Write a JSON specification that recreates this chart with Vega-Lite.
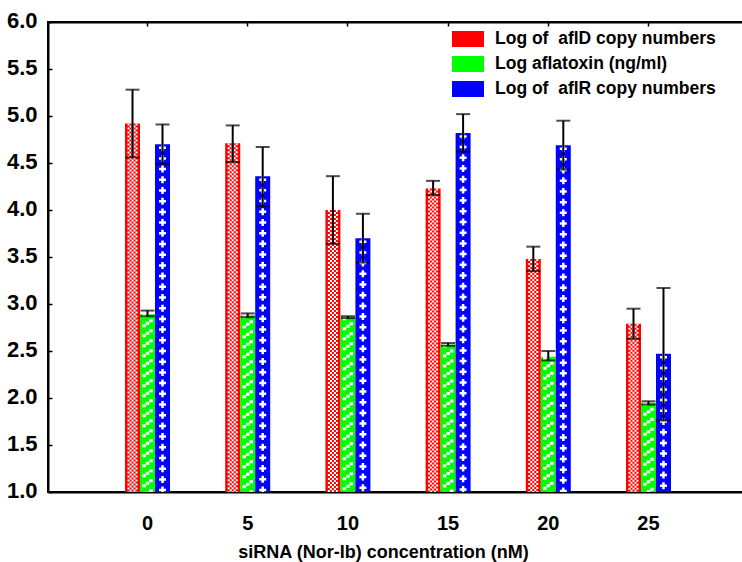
{
  "$schema": "https://vega.github.io/schema/vega-lite/v6.json",
  "width": 700,
  "height": 470,
  "autosize": {"type": "none"},
  "padding": {"left": 48, "top": 22, "right": 0, "bottom": 70},
  "background": "white",
  "config": {
    "view": {"stroke": "black", "strokeWidth": 2},
    "axis": {"grid": false, "domainColor": "black", "domainWidth": 2, "tickColor": "black", "labelColor": "black", "titleColor": "black"}
  },
  "datasets": {
    "bars": [
      {"conc": 0, "series": "aflD", "value": 4.92, "lo": 4.56, "hi": 5.28},
      {"conc": 0, "series": "aflatoxin", "value": 2.89, "lo": 2.87, "hi": 2.93},
      {"conc": 0, "series": "aflR", "value": 4.70, "lo": 4.49, "hi": 4.91},
      {"conc": 5, "series": "aflD", "value": 4.71, "lo": 4.51, "hi": 4.90},
      {"conc": 5, "series": "aflatoxin", "value": 2.88, "lo": 2.86, "hi": 2.90},
      {"conc": 5, "series": "aflR", "value": 4.36, "lo": 4.04, "hi": 4.67},
      {"conc": 10, "series": "aflD", "value": 4.00, "lo": 3.64, "hi": 4.36},
      {"conc": 10, "series": "aflatoxin", "value": 2.86, "lo": 2.85, "hi": 2.87},
      {"conc": 10, "series": "aflR", "value": 3.70, "lo": 3.44, "hi": 3.96},
      {"conc": 15, "series": "aflD", "value": 4.23, "lo": 4.16, "hi": 4.31},
      {"conc": 15, "series": "aflatoxin", "value": 2.57, "lo": 2.555, "hi": 2.585},
      {"conc": 15, "series": "aflR", "value": 4.82, "lo": 4.62, "hi": 5.02},
      {"conc": 20, "series": "aflD", "value": 3.48, "lo": 3.35, "hi": 3.61},
      {"conc": 20, "series": "aflatoxin", "value": 2.44, "lo": 2.40, "hi": 2.50},
      {"conc": 20, "series": "aflR", "value": 4.69, "lo": 4.43, "hi": 4.95},
      {"conc": 25, "series": "aflD", "value": 2.79, "lo": 2.63, "hi": 2.95},
      {"conc": 25, "series": "aflatoxin", "value": 1.95, "lo": 1.93, "hi": 1.965},
      {"conc": 25, "series": "aflR", "value": 2.47, "lo": 1.76, "hi": 3.17}
    ]
  },
  "layer": [
    {
      "data": {"name": "bars"},
      "encoding": {
        "x": {
          "field": "conc", "type": "ordinal",
          "scale": {"type": "band", "paddingInner": 0.551, "paddingOuter": 0.7686, "align": 0.5},
          "axis": {
            "orient": "bottom", "title": "siRNA (Nor-Ib) concentration (nM)", "labels": true, "ticks": true, "tickSize": -3, "tickWidth": 1.5, "labelAngle": 0,
            "labelFont": "Liberation Sans", "labelFontSize": 20, "labelFontWeight": "bold", "labelBaseline": "alphabetic", "labelPadding": 40,
            "titleFont": "Liberation Sans", "titleFontSize": 18, "titleFontWeight": "bold", "titleX": 335, "titleY": 65, "titleBaseline": "alphabetic", "titleAnchor": "middle", "titleAlign": "center"
          }
        },
        "y": {
          "field": "value", "type": "quantitative",
          "scale": {"domain": [1, 6], "zero": false, "nice": false},
          "axis": {"title": null, "values": [1, 1.5, 2, 2.5, 3, 3.5, 4, 4.5, 5, 5.5, 6], "format": ".1f", "labelFont": "Liberation Sans", "labelFontSize": 22, "labelFontWeight": "bold", "tickSize": -4, "tickWidth": 1.5, "labelPadding": 15, "labelOffset": -2}
        }
      },
      "layer": [
        {
          "mark": {"type": "bar", "strokeWidth": 0},
          "encoding": {
            "xOffset": {"field": "series", "type": "nominal", "scale": {"domain": ["aflD", "aflatoxin", "aflR"], "paddingInner": 0, "paddingOuter": 0}},
            "y2": {"datum": 1},
            "fill": {
              "field": "series", "type": "nominal",
              "scale": {"domain": ["aflD", "aflatoxin", "aflR"], "range": ["#ff0000", "#00ff00", "#0000ff"]},
              "legend": {
                "title": null, "orient": "none", "legendX": 404, "legendY": 1, "padding": 0,
                "symbolType": "M-1,-0.5H1V0.5H-1Z", "symbolSize": 1024, "symbolStrokeWidth": 0, "symbolOpacity": 1,
                "labelFont": "Liberation Sans", "labelFontSize": 17.5, "labelFontWeight": "bold", "labelColor": "black", "labelOffset": 11, "rowPadding": -8.5, "labelLimit": 400,
                "labelExpr": "datum.label == 'aflD' ? 'Log of\u00a0\u00a0aflD copy numbers' : datum.label == 'aflR' ? 'Log of\u00a0\u00a0aflR copy numbers' : 'Log aflatoxin (ng/ml)'"
              }
            }
          }
        },
        {"transform": [{"filter": "datum.series == 'aflD'"}], "mark": {"type": "rule", "color": "white", "strokeWidth": 2, "strokeDash": [2, 2], "strokeDashOffset": 0, "strokeCap": "butt", "xOffset": -19}, "encoding": {"y2": {"datum": 1}}},
        {"transform": [{"filter": "datum.series == 'aflD'"}], "mark": {"type": "rule", "color": "white", "strokeWidth": 2, "strokeDash": [2, 2], "strokeDashOffset": 2, "strokeCap": "butt", "xOffset": -17}, "encoding": {"y2": {"datum": 1}}},
        {"transform": [{"filter": "datum.series == 'aflD'"}], "mark": {"type": "rule", "color": "white", "strokeWidth": 2, "strokeDash": [2, 2], "strokeDashOffset": 0, "strokeCap": "butt", "xOffset": -15}, "encoding": {"y2": {"datum": 1}}},
        {"transform": [{"filter": "datum.series == 'aflD'"}], "mark": {"type": "rule", "color": "white", "strokeWidth": 2, "strokeDash": [2, 2], "strokeDashOffset": 2, "strokeCap": "butt", "xOffset": -13}, "encoding": {"y2": {"datum": 1}}},
        {"transform": [{"filter": "datum.series == 'aflD'"}], "mark": {"type": "rule", "color": "white", "strokeWidth": 2, "strokeDash": [2, 2], "strokeDashOffset": 0, "strokeCap": "butt", "xOffset": -11}, "encoding": {"y2": {"datum": 1}}},
        {"transform": [{"filter": "datum.series == 'aflatoxin'"}], "mark": {"type": "rule", "color": "white", "strokeWidth": 3.5, "strokeDash": [3, 7], "strokeDashOffset": 0, "strokeCap": "butt", "xOffset": -3.5}, "encoding": {"y2": {"datum": 1}}},
        {"transform": [{"filter": "datum.series == 'aflatoxin'"}], "mark": {"type": "rule", "color": "white", "strokeWidth": 3.5, "strokeDash": [3, 7], "strokeDashOffset": 2.5, "strokeCap": "butt", "xOffset": 0}, "encoding": {"y2": {"datum": 1}}},
        {"transform": [{"filter": "datum.series == 'aflatoxin'"}], "mark": {"type": "rule", "color": "white", "strokeWidth": 3.5, "strokeDash": [3, 7], "strokeDashOffset": 5, "strokeCap": "butt", "xOffset": 3.5}, "encoding": {"y2": {"datum": 1}}},
        {"transform": [{"filter": "datum.series == 'aflR'"}], "mark": {"type": "rule", "color": "white", "strokeWidth": 2.5, "strokeDash": [7, 3.7], "strokeDashOffset": 0, "strokeCap": "butt", "xOffset": 15}, "encoding": {"y2": {"datum": 1}}},
        {"transform": [{"filter": "datum.series == 'aflR'"}], "mark": {"type": "rule", "color": "white", "strokeWidth": 7, "strokeDash": [2.5, 8.2], "strokeDashOffset": 8.45, "strokeCap": "butt", "xOffset": 15}, "encoding": {"y2": {"datum": 1}}},
        {
          "mark": {"type": "rule", "color": "black", "strokeWidth": 2},
          "encoding": {
            "xOffset": {"field": "series", "type": "nominal"},
            "y": {"field": "lo", "type": "quantitative"}, "y2": {"field": "hi"}
          }
        },
        {
          "mark": {"type": "tick", "color": "black", "thickness": 2, "size": 14, "orient": "horizontal"},
          "encoding": {"xOffset": {"field": "series", "type": "nominal"}, "y": {"field": "lo", "type": "quantitative"}}
        },
        {
          "mark": {"type": "tick", "color": "black", "thickness": 2, "size": 14, "orient": "horizontal"},
          "encoding": {"xOffset": {"field": "series", "type": "nominal"}, "y": {"field": "hi", "type": "quantitative"}}
        }
      ]
    },
    {
      "data": {"name": "bars"},
      "mark": {"type": "point", "opacity": 0},
      "encoding": {
        "x": {
          "field": "conc", "type": "ordinal",
          "scale": {"type": "band", "paddingInner": 0.551, "paddingOuter": 0.7686, "align": 0.5},
          "axis": {"orient": "top", "title": null, "labels": false, "ticks": true, "tickSize": -4, "tickWidth": 1.5}
        }
      }
    }
  ],
  "resolve": {"scale": {"x": "independent"}, "axis": {"x": "independent"}}
}
